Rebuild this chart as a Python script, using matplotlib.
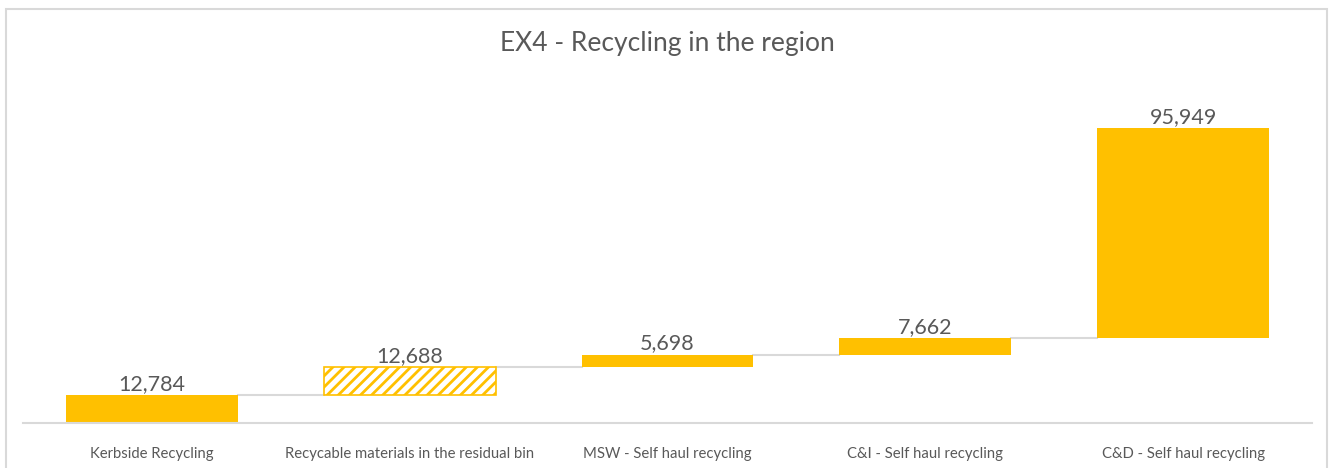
import matplotlib.pyplot as plt
from matplotlib.patches import Rectangle

categories = ["Kerbside Recycling", "Recycable materials in the residual bin",
              "MSW - Self haul recycling", "C&I - Self haul recycling",
              "C&D - Self haul recycling"]
values = [12784, 12688, 5698, 7662, 95949]
hatched = [False, True, False, False, False]

orange = "#FFC000"
grey_txt = "#595959"
plt.rcParams["font.family"] = ["Lato", "DejaVu Sans"]
plt.rcParams["hatch.linewidth"] = 2.0

fig = plt.figure(figsize=(13.29, 4.68), dpi=100)
ax = fig.add_axes([23 / 1329, 45 / 468, 1289 / 1329, 350 / 468])

# outer chart frame
fig.patches.append(Rectangle((6 / 1329, -0.1), 1321 / 1329, (459 / 468) + 0.1,
                             transform=fig.transFigure, fill=False,
                             edgecolor="#D9D9D9", linewidth=1.5))

width = 0.667
bottoms = []
total = 0
for v in values:
    bottoms.append(total)
    total += v

for i, (v, b, h) in enumerate(zip(values, bottoms, hatched)):
    if h:
        ax.bar(i, v, width, bottom=b, facecolor="white", edgecolor=orange,
               hatch="///", linewidth=1.2)
    else:
        ax.bar(i, v, width, bottom=b, color=orange)
    ax.annotate(f"{v:,}", (i, b + v), xytext=(0, 1), textcoords="offset points",
                ha="center", va="bottom", fontsize=15.5, color=grey_txt)

# connectors
for i in range(len(values) - 1):
    level = bottoms[i] + values[i]
    ax.plot([i + width / 2, i + 1 - width / 2], [level, level],
            color="#D9D9D9", linewidth=1.5, zorder=0)

ax.set_xlim(-0.5, 4.5)
ax.set_ylim(0, 160000)
ax.set_yticks([])
ax.set_xticks(range(len(categories)))
ax.set_xticklabels(categories, fontsize=10.7, color=grey_txt)
ax.tick_params(axis="x", length=0, pad=17)
for s in ["top", "right", "left"]:
    ax.spines[s].set_visible(False)
ax.spines["bottom"].set_color("#D9D9D9")
ax.spines["bottom"].set_linewidth(1.5)

fig.text(667 / 1329, 1 - 44 / 468, "EX4 - Recycling in the region",
         ha="center", va="center", fontsize=19, color=grey_txt)

fig.savefig("out.png", dpi=100)
